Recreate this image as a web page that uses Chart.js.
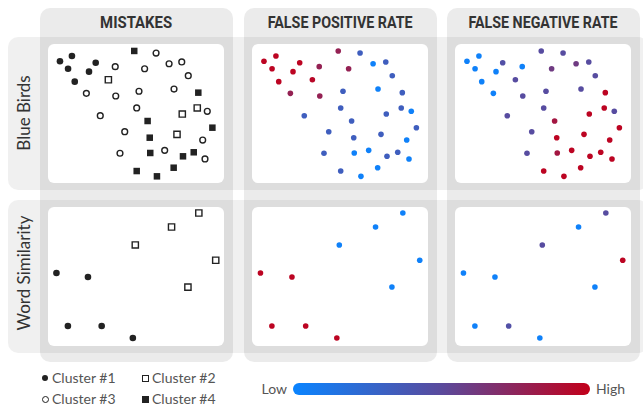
<!DOCTYPE html>
<html><head><meta charset="utf-8">
<script src="https://cdn.jsdelivr.net/npm/chart.js@4.4.1/dist/chart.umd.min.js"></script>
<style>
html,body{margin:0;padding:0;background:#fff;}
#root{position:relative;width:643px;height:406px;overflow:hidden;font-family:Lato,"Open Sans",sans-serif;}
.colband{position:absolute;background:rgba(0,0,0,0.078);border-radius:10px;}
.rowband{position:absolute;background:rgba(0,0,0,0.058);border-radius:10px;}
.panel{position:absolute;background:#fff;border-radius:6px;}
.panel canvas{position:absolute;left:0;top:0;}
.head{position:absolute;top:11px;height:22px;line-height:22px;text-align:center;white-space:nowrap;}
.head span{display:inline-block;font-family:Roboto,sans-serif;font-weight:700;font-size:17px;color:#333;transform-origin:50% 50%;}
.rowlab{position:absolute;width:160px;height:22px;line-height:22px;text-align:center;font-size:17px;color:#333;transform:rotate(-90deg);white-space:nowrap;}
.lg{position:absolute;font-size:14px;color:#555;line-height:16px;white-space:nowrap;}
.mk{position:absolute;box-sizing:border-box;}
</style></head>
<body><div id="root"></div>
<script>
// ---- data ----
const columnTitles = ["MISTAKES", "FALSE POSITIVE RATE", "FALSE NEGATIVE RATE"];
const rowTitles = ["Blue Birds", "Word Similarity"];
const legendLabels = ["Cluster #1", "Cluster #2", "Cluster #3", "Cluster #4"];
const scaleLabels = ["Low", "High"];

// Blue Birds embedding (x, y in 0-100 units)
const birdsCluster1 = [[6.8,87.6],[13.6,91.4],[11.4,82.2],[27.1,86.5],[23.3,80.1],[15.2,72.9]];
const birdsCluster2 = [[34.3,74.3],[76.3,49.6],[84.8,54.0],[73.3,35.0]];
const birdsCluster3 = [[61.4,93.5],[38.2,83.7],[54.9,82.2],[68.8,85.8],[76.0,87.1],[79.7,77.2],
  [21.8,64.5],[38.5,62.6],[51.7,66.0],[71.6,67.6],[50.4,54.0],[90.5,51.6],
  [29.7,48.4],[43.6,36.9],[87.9,30.9],[66.3,23.5],[40.9,21.4],[89.2,17.3]];
const birdsCluster4 = [[49.0,95.0],[85.4,65.0],[56.6,44.6],[93.4,39.8],[57.8,32.6],[58.1,21.6],
  [76.7,19.2],[82.8,22.1],[71.4,11.0],[50.4,8.6],[61.9,4.8]];
// rates per point, in the order cluster1, cluster2, cluster3, cluster4
const birdsFPR = [0.97,0.97,0.97,0.97,0.97,0.97,
  0.95,0.33,0.33,0.33,
  0.33,0.78,0.78,0.03,0.33,0.33,0.78,0.78,0.33,0.03,0.33,0.03,0.33,0.33,0.03,0.03,0.33,0.03,
  0.78,0.33,0.33,0.33,0.33,0.03,0.33,0.33,0.03,0.33,0.03];
const birdsFNR = [0.03,0.03,0.03,0.45,0.03,0.03,
  0.48,0.97,0.97,0.97,
  0.48,0.03,0.6,0.6,0.48,0.48,0.03,0.48,0.48,0.48,0.48,0.48,0.48,0.48,0.97,0.97,0.48,0.97,
  0.48,0.97,0.85,0.97,0.97,0.85,0.97,0.97,0.97,0.97,0.97];

// Word Similarity embedding
const wordCluster1 = [[4.8,52.5],[22.7,49.6],[11.3,14.4],[30.5,14.4],[48.2,5.8]];
const wordCluster2 = [[85.7,95.7],[70.2,85.6],[49.6,72.7],[95.3,61.7],[79.5,42.4]];
const wordFPR = [0.97,0.97,0.97,0.97,0.97, 0.03,0.03,0.03,0.03,0.03];
const wordFNR = [0.03,0.03,0.03,0.45,0.03, 0.48,0.03,0.48,0.97,0.03];

const gradientStops = ["#0a84ff", "#5a4a9c", "#c2001a"];

// ---- layout ----
const root = document.getElementById('root');
function el(cls, css, html){const d=document.createElement('div');d.className=cls;Object.assign(d.style,css);if(html!==undefined)d.innerHTML=html;root.appendChild(d);return d;}
const colLeft = [40, 243.5, 447], colW = 193;
const rowTop = [37, 200], rowH = 153;
const panelLeft = [48, 252, 455], panelTop = [44, 207], panelW = 176, panelH = 139;

colLeft.forEach(x=>el('colband',{left:x+'px',top:'8px',width:colW+'px',height:'354px'}));
rowTop.forEach(y=>el('rowband',{left:'8px',top:y+'px',width:'640px',height:rowH+'px'}));

const headWidths = [72, 145, 149];
columnTitles.forEach((t,i)=>{
  const h = el('head',{left:colLeft[i]+'px',width:colW+'px'},'<span>'+t+'</span>');
  const s = h.firstChild; const w = s.getBoundingClientRect().width;
  s.style.transform = 'scaleX('+(headWidths[i]/w).toFixed(3)+')';
});
const rowCenters = [113, 273];
rowTitles.forEach((t,i)=>el('rowlab',{left:(24-80)+'px',top:(rowCenters[i]-11)+'px'},t));

function hexToRgb(h){return [parseInt(h.slice(1,3),16),parseInt(h.slice(3,5),16),parseInt(h.slice(5,7),16)];}
function cmap(v){
  const n = gradientStops.length-1; const p = Math.min(Math.max(v,0),1)*n;
  const i = Math.min(Math.floor(p), n-1), f = p-i;
  const a = hexToRgb(gradientStops[i]), b = hexToRgb(gradientStops[i+1]);
  return 'rgb('+a.map((c,k)=>Math.round(c+(b[k]-c)*f)).join(',')+')';
}
const toPts = arr => arr.map(([x,y])=>({x,y}));

function makeChart(r, c, datasets){
  const p = el('panel',{left:panelLeft[c]+'px',top:panelTop[r]+'px',width:panelW+'px',height:panelH+'px'});
  const cv = document.createElement('canvas'); cv.width = panelW; cv.height = panelH;
  cv.style.width = panelW+'px'; cv.style.height = panelH+'px'; p.appendChild(cv);
  new Chart(cv, {type:'scatter', data:{datasets}, options:{
    responsive:false, animation:false, events:[], devicePixelRatio:1,
    layout:{padding:0, autoPadding:false},
    plugins:{legend:{display:false}, tooltip:{enabled:false}},
    scales:{x:{type:'linear',min:0,max:100,display:false}, y:{type:'linear',min:0,max:100,display:false}}
  }});
}
const INK = '#222';
function mistakeSets(clusters){
  const styles = [
    {pointStyle:'circle', pointRadius:3.3, backgroundColor:INK, borderWidth:0},
    {pointStyle:'rect', pointRadius:4.4, backgroundColor:'#fff', borderColor:INK, borderWidth:1.4},
    {pointStyle:'circle', pointRadius:2.9, backgroundColor:'#fff', borderColor:INK, borderWidth:1.4},
    {pointStyle:'rect', pointRadius:4.6, backgroundColor:INK, borderWidth:0}
  ];
  return clusters.map((cl,i)=>cl ? Object.assign({data:toPts(cl), clip:false}, styles[i]) : null).filter(Boolean);
}
function rateSet(clusters, rates){
  const pts = toPts([].concat(...clusters));
  return [{data:pts, clip:false, pointStyle:'circle', pointRadius:2.8, borderWidth:0,
    backgroundColor:rates.map(cmap), pointBackgroundColor:rates.map(cmap)}];
}
const birds = [birdsCluster1, birdsCluster2, birdsCluster3, birdsCluster4];
makeChart(0,0, mistakeSets(birds));
makeChart(0,1, rateSet(birds, birdsFPR));
makeChart(0,2, rateSet(birds, birdsFNR));
makeChart(1,0, mistakeSets([wordCluster1, wordCluster2, null, null]));
makeChart(1,1, rateSet([wordCluster1, wordCluster2], wordFPR));
makeChart(1,2, rateSet([wordCluster1, wordCluster2], wordFNR));

// ---- legend ----
const lgPos = [[45,378],[145,378],[45,399],[145,399]];
const mkCss = [
  {width:'6px',height:'6px',borderRadius:'50%',background:INK},
  {width:'7px',height:'7px',border:'1.4px solid '+INK,background:'#fff'},
  {width:'7px',height:'7px',borderRadius:'50%',border:'1.4px solid '+INK,background:'#fff'},
  {width:'7px',height:'7px',background:INK}
];
legendLabels.forEach((t,i)=>{
  const [x,y]=lgPos[i]; const w=parseFloat(mkCss[i].width);
  el('mk',Object.assign({left:(x-w/2)+'px',top:(y-w/2)+'px'},mkCss[i]));
  el('lg',{left:(x+7)+'px',top:(y-8)+'px'},t);
});
el('mk',{left:'293px',top:'383px',width:'297px',height:'12px',borderRadius:'6px',
  background:'linear-gradient(to right,'+gradientStops.join(',')+')'});
el('lg',{left:'230px',width:'57px',textAlign:'right',top:'381px'},scaleLabels[0]);
el('lg',{left:'596px',top:'381px'},scaleLabels[1]);
</script></body></html>
